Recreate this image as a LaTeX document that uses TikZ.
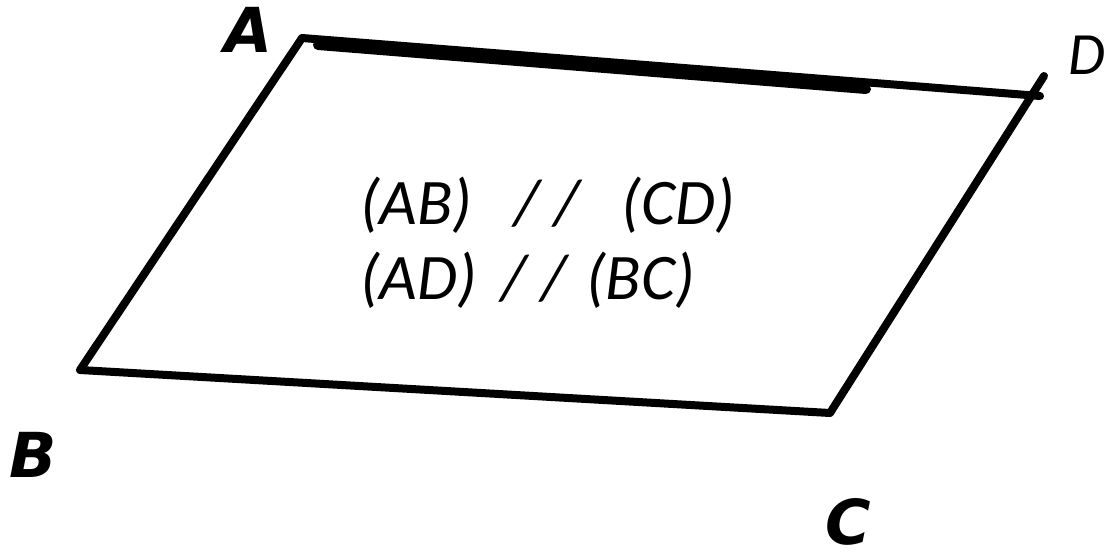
\documentclass[tikz,border=0pt]{standalone}
\usepackage{fontspec}
\setmainfont{Carlito}
\newfontfamily\lblfont{DejaVu Sans}
\begin{document}
\begin{tikzpicture}[x=1pt,y=-1pt,
  edge/.style={line width=8pt, line cap=round, line join=round},
  vlabel/.style={inner sep=0pt, font=\lblfont\bfseries\itshape\fontsize{62}{62}\selectfont},
  rel/.style={inner sep=0pt, anchor=base west, font=\itshape\fontsize{65}{70}\selectfont}]
\useasboundingbox (0,0) rectangle (1104,557);
\coordinate (A) at (302,38);
\coordinate (D) at (1040,96);
\coordinate (Dt) at (1044,76);
\coordinate (C) at (830,413);
\coordinate (B) at (80,370);
\coordinate (T1) at (318,45);
\coordinate (T2) at (866,89);
\draw[edge] (D) -- (A) -- (B) -- (C) -- (Dt);
\draw[line width=10pt, line cap=round] (T1) -- (T2);
\node[vlabel] (lA) at (248,30) {A};
\node[vlabel] (lB) at (33,455) {B};
\node[vlabel] (lC) at (848,522) {C};
\node[inner sep=0pt, anchor=base west, font=\itshape\fontsize{60}{60}\selectfont] (lD) at (1068,74) {D};
\node[rel] (r1) at (360,224) {(AB)\hspace{42pt}/ /\hspace{42pt}(CD)};
\node[rel] (r2) at (360,299) {(AD)\hspace{24pt}/ /\hspace{20pt}(BC)};
\end{tikzpicture}
\end{document}
